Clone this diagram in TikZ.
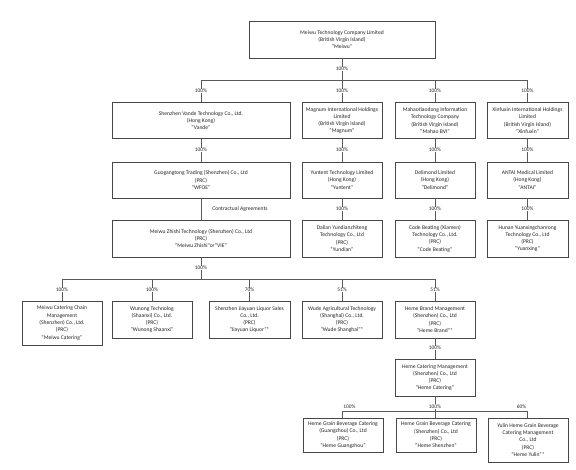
\documentclass[tikz,border=0pt]{standalone}
\usepackage{fontspec}
\setmainfont{Carlito}
\begin{document}
\begin{tikzpicture}[x=1pt,y=-1pt,
  box/.style={draw=black!72,line width=0.75pt,align=center,inner sep=1pt,
    font=\fontsize{5.6}{7.3}\selectfont,text=black!85},
  pct/.style={fill=white,inner sep=0.6pt,font=\fontsize{5.4}{6}\selectfont,text=black!85},
  lbl/.style={inner sep=0.6pt,font=\fontsize{5.6}{6.5}\selectfont,text=black!85},
  conn/.style={draw=black!65,line width=0.7pt}]
\useasboundingbox (0,0) rectangle (576,469);
\fill[white] (0,0) rectangle (576,469);
% top
\node[box,minimum width=186pt,minimum height=37pt] (meiwu) at (342,39.5) {Meiwu Technology Company Limited\\(British Virgin Island)\\“Meiwu”};
% row 2
\node[box,minimum width=178pt,minimum height=36pt] (vande) at (201,120.5) {Shenzhen Vande Technology Co., Ltd.\\(Hong Kong)\\“Vande”};
\node[box,minimum width=80pt,minimum height=36pt] (magnum) at (342,120.5) {Magnum International Holdings\\Limited\\(British Virgin Island)\\“Magnum”};
\node[box,minimum width=80pt,minimum height=36pt] (mahao) at (435,120.5) {Mahaotiaodong Information\\Technology Company\\(British Virgin Island)\\“Mahao BVI”};
\node[box,minimum width=81pt,minimum height=36pt] (xinfuxin) at (527.5,120.5) {Xinfuxin International Holdings\\Limited\\(British Virgin Island)\\“Xinfuxin”};
% row 3
\node[box,minimum width=178pt,minimum height=36pt] (wfoe) at (201,180) {Guogangtong Trading (Shenzhen) Co., Ltd\\(PRC)\\“WFOE”};
\node[box,minimum width=80pt,minimum height=36pt] (yuntent) at (342,180) {Yuntent Technology Limited\\(Hong Kong)\\“Yuntent”};
\node[box,minimum width=80pt,minimum height=36pt] (delimond) at (435,180) {Delimond Limited\\(Hong Kong)\\“Delimond”};
\node[box,minimum width=81pt,minimum height=36pt] (antai) at (527.5,180) {ANTAI Medical Limited\\(Hong Kong)\\“ANTAI”};
% row 4
\node[box,minimum width=178pt,minimum height=37pt] (vie) at (201,238.5) {Meiwu Zhishi Technology (Shenzhen) Co., Ltd\\(PRC)\\“Meiwu Zhishi”or“VIE”};
\node[box,minimum width=80pt,minimum height=37pt] (yundian) at (342,238.5) {Dalian Yundianzhiteng\\Technology Co., Ltd\\(PRC)\\“Yundian”};
\node[box,minimum width=80pt,minimum height=37pt] (codebeat) at (435,238.5) {Code Beating (Xiamen)\\Technology Co., Ltd.\\(PRC)\\“Code Beating”};
\node[box,minimum width=81pt,minimum height=37pt] (yuanxing) at (527.5,238.5) {Hunan Yuanxingchanrong\\Technology Co., Ltd\\(PRC)\\“Yuanxing”};
% row 5
\node[box,minimum width=80pt,minimum height=44pt] (mcater) at (62,323) {Meiwu Catering Chain\\Management\\(Shenzhen) Co., Ltd.\\(PRC)\\“Meiwu Catering”};
\node[box,minimum width=80pt,minimum height=37pt] (wunong) at (152,319.5) {Wunong Technolog\\(Shaanxi) Co., Ltd.\\(PRC)\\“Wunong Shaanxi”};
\node[box,minimum width=81pt,minimum height=37pt] (jiayuan) at (249.5,319.5) {Shenzhen Jiayuan Liquor Sales\\Co., Ltd.\\(PRC)\\“Jiayuan Liquor”*};
\node[box,minimum width=80pt,minimum height=37pt] (wude) at (342,319.5) {Wude Agricultural Technology\\(Shanghai) Co., Ltd.\\(PRC)\\“Wude Shanghai”*};
\node[box,minimum width=80pt,minimum height=37pt] (hbrand) at (435,319.5) {Heme Brand Management\\(Shenzhen) Co., Ltd\\(PRC)\\“Heme Brand”*};
% row 6
\node[box,minimum width=80pt,minimum height=37pt] (hcater) at (435,377.5) {Heme Catering Management\\(Shenzhen) Co., Ltd\\(PRC)\\“Heme Catering”};
% row 7
\node[box,minimum width=80pt,minimum height=34pt] (hgz) at (343,435) {Heme Grain Beverage Catering\\(Guangzhou) Co., Ltd\\(PRC)\\“Heme Guangzhou”};
\node[box,minimum width=80pt,minimum height=34pt] (hsz) at (436,435) {Heme Grain Beverage Catering\\(Shenzhen) Co., Ltd\\(PRC)\\“Heme Shenzhen”};
\node[box,minimum width=80pt,minimum height=44pt] (hyl) at (528,440) {Yulin Heme Grain Beverage\\Catering Management\\Co., Ltd\\(PRC)\\“Heme Yulin”*};
% bus coordinates
\coordinate (b1) at (342,80);
\coordinate (b5) at (201,279);
\coordinate (b7) at (435,411);
% connectors top
\draw[conn] (meiwu.south) -- (b1);
\draw[conn] (vande.north) |- (b1);
\draw[conn] (xinfuxin.north) |- (b1);
\draw[conn] (b1) -- (magnum.north);
\draw[conn] (mahao.north) -- (mahao.north |- b1);
% row 2 -> 3
\draw[conn] (vande) -- (wfoe);
\draw[conn] (magnum) -- (yuntent);
\draw[conn] (mahao) -- (delimond);
\draw[conn] (xinfuxin) -- (antai);
% row 3 -> 4
\draw[conn] (wfoe) -- (vie);
\draw[conn] (yuntent) -- (yundian);
\draw[conn] (delimond) -- (codebeat);
\draw[conn] (antai) -- (yuanxing);
% row 4 -> 5
\draw[conn] (vie.south) -- (b5);
\draw[conn] (mcater.north) |- (b5);
\draw[conn] (hbrand.north) |- (b5);
\draw[conn] (wunong.north) -- (wunong.north |- b5);
\draw[conn] (jiayuan.north) -- (jiayuan.north |- b5);
\draw[conn] (wude.north) -- (wude.north |- b5);
% heme
\draw[conn] (hbrand) -- (hcater);
\draw[conn] (hcater.south) -- (b7);
\draw[conn] (b7) -- (hcater.south |- hsz.north);
\draw[conn] (hgz.north -| 342,0) |- (b7);
\draw[conn] (hyl.north -| 527,0) |- (b7);
% labels
\node[pct] (l0) at (342,69) {100\%};
\node[pct] (l1a) at (201,91) {100\%};
\node[pct] (l1b) at (342,91) {100\%};
\node[pct] (l1c) at (435,91) {100\%};
\node[pct] (l1d) at (527.5,91) {100\%};
\node[pct] (l2a) at (201,150) {100\%};
\node[pct] (l2b) at (342,150) {100\%};
\node[pct] (l2c) at (435,150) {100\%};
\node[pct] (l2d) at (527.5,150) {100\%};
\node[lbl] (ca) at (240,209) {Contractual Agreements};
\node[pct] (l3b) at (342,209) {100\%};
\node[pct] (l3c) at (435,209) {100\%};
\node[pct] (l3d) at (527.5,209) {100\%};
\node[pct] (l4) at (201,268) {100\%};
\node[pct] (l5a) at (62,290) {100\%};
\node[pct] (l5b) at (152,290) {100\%};
\node[pct] (l5c) at (249.5,290) {70\%};
\node[pct] (l5d) at (342,290) {51\%};
\node[pct] (l5e) at (435,290) {51\%};
\node[pct] (l6) at (435,348) {100\%};
\node[pct,fill=none] (l7a) at (349.5,406.5) {100\%};
\node[pct] (l7b) at (435,406.5) {100\%};
\node[pct,fill=none] (l7c) at (521.5,406.5) {60\%};
\end{tikzpicture}
\end{document}
